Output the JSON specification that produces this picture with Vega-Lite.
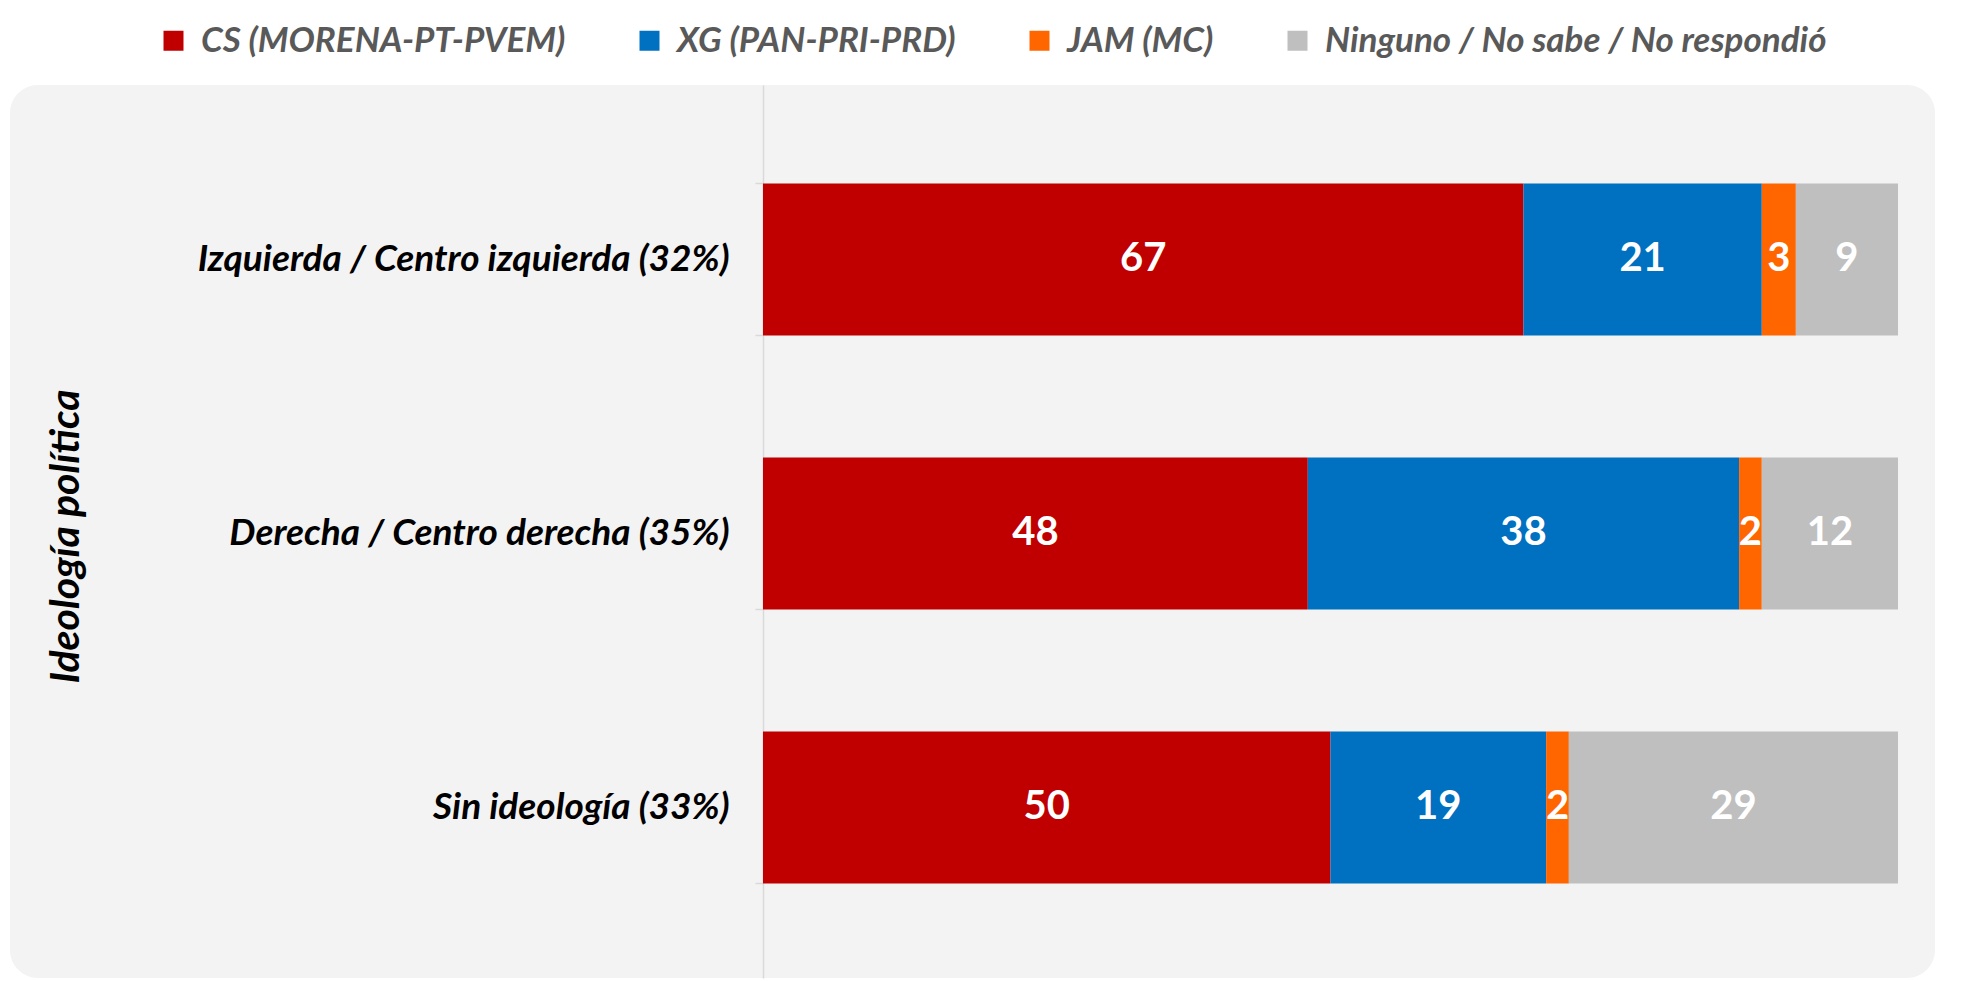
{
  "$schema": "https://vega.github.io/schema/vega-lite/v6.json",
  "width": 1925,
  "height": 893,
  "autosize": {"type": "none"},
  "padding": {"left": 10, "top": 85, "right": 52, "bottom": 3},
  "background": "white",
  "config": {
    "view": {"fill": "#F3F3F3", "stroke": null, "cornerRadius": 28},
    "font": "Lato"
  },
  "data": {
    "values": [
      {"ideologia": "Izquierda / Centro izquierda (32%)", "partido": "CS (MORENA-PT-PVEM)", "orden": 1, "valor": 67},
      {"ideologia": "Izquierda / Centro izquierda (32%)", "partido": "XG (PAN-PRI-PRD)", "orden": 2, "valor": 21},
      {"ideologia": "Izquierda / Centro izquierda (32%)", "partido": "JAM (MC)", "orden": 3, "valor": 3},
      {"ideologia": "Izquierda / Centro izquierda (32%)", "partido": "Ninguno / No sabe / No respondió", "orden": 4, "valor": 9},
      {"ideologia": "Derecha / Centro derecha (35%)", "partido": "CS (MORENA-PT-PVEM)", "orden": 1, "valor": 48},
      {"ideologia": "Derecha / Centro derecha (35%)", "partido": "XG (PAN-PRI-PRD)", "orden": 2, "valor": 38},
      {"ideologia": "Derecha / Centro derecha (35%)", "partido": "JAM (MC)", "orden": 3, "valor": 2},
      {"ideologia": "Derecha / Centro derecha (35%)", "partido": "Ninguno / No sabe / No respondió", "orden": 4, "valor": 12},
      {"ideologia": "Sin ideología (33%)", "partido": "CS (MORENA-PT-PVEM)", "orden": 1, "valor": 50},
      {"ideologia": "Sin ideología (33%)", "partido": "XG (PAN-PRI-PRD)", "orden": 2, "valor": 19},
      {"ideologia": "Sin ideología (33%)", "partido": "JAM (MC)", "orden": 3, "valor": 2},
      {"ideologia": "Sin ideología (33%)", "partido": "Ninguno / No sabe / No respondió", "orden": 4, "valor": 29}
    ]
  },
  "transform": [
    {"stack": "valor", "groupby": ["ideologia"], "sort": [{"field": "orden", "order": "ascending"}], "as": ["v0", "v1"], "offset": "zero"},
    {"calculate": "(datum.v0 + datum.v1) / 2", "as": "vmid"}
  ],
  "encoding": {
    "y": {
      "field": "ideologia",
      "type": "nominal",
      "sort": ["Izquierda / Centro izquierda (32%)", "Derecha / Centro derecha (35%)", "Sin ideología (33%)"],
      "scale": {"paddingInner": 0.445, "paddingOuter": 0.352, "align": 0.51},
      "axis": {
        "title": "Ideología política",
        "orient": "left",
        "offset": -753,
        "tickBand": "extent",
        "domainColor": "#D9D9D9",
        "domainWidth": 1.5,
        "tickColor": "#D9D9D9",
        "tickWidth": 1.5,
        "tickSize": 8,
        "labelFont": "Lato",
        "labelFontSize": 37,
        "labelFontStyle": "italic",
        "labelFontWeight": "bold",
        "labelColor": "black",
        "labelPadding": 26,
        "labelLimit": 800,
        "titleFont": "Lato",
        "titleFontSize": 41,
        "titleFontStyle": "italic",
        "titleFontWeight": "bold",
        "titleColor": "black",
        "titleX": -697,
        "titleY": 451,
        "titleAngle": -90,
        "titleAlign": "center",
        "titleBaseline": "middle"
      }
    }
  },
  "layer": [
    {
      "mark": {"type": "bar"},
      "encoding": {
        "x": {"field": "v0", "type": "quantitative", "scale": {"domain": [-66.34, 103.26], "nice": false, "zero": false}, "axis": null},
        "x2": {"field": "v1"},
        "color": {
          "field": "partido",
          "type": "nominal",
          "scale": {
            "domain": ["CS (MORENA-PT-PVEM)", "XG (PAN-PRI-PRD)", "JAM (MC)", "Ninguno / No sabe / No respondió"],
            "range": ["#C00000", "#0070C0", "#FF6600", "#BFBFBF"]
          },
          "legend": {
            "title": null,
            "orient": "none",
            "legendX": 146,
            "legendY": -62,
            "direction": "horizontal",
            "columns": 4,
            "columnPadding": 66,
            "symbolType": "square",
            "symbolSize": 400,
            "symbolStrokeWidth": 0,
            "labelFont": "Lato",
            "labelFontSize": 35,
            "labelFontStyle": "italic",
            "labelFontWeight": "bold",
            "labelColor": "#595959",
            "labelLimit": 800,
            "labelOffset": 10
          }
        }
      }
    },
    {
      "mark": {"type": "text", "color": "white", "fontWeight": "bold", "fontSize": 40, "font": "Lato", "baseline": "middle", "align": "center"},
      "encoding": {
        "x": {"field": "vmid", "type": "quantitative"},
        "text": {"field": "valor", "type": "quantitative"}
      }
    }
  ]
}
